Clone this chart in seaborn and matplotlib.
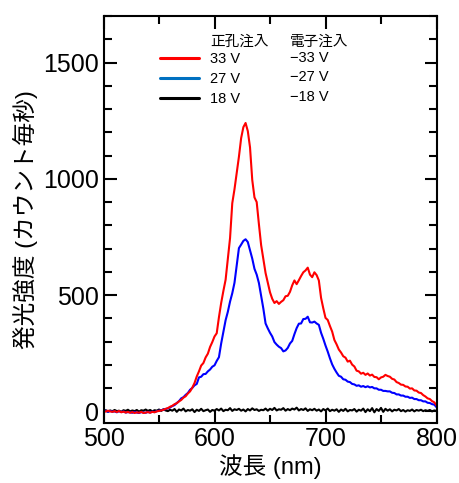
import numpy as np
import pandas as pd
import matplotlib
matplotlib.use("Agg")
import matplotlib.pyplot as plt
from matplotlib.lines import Line2D
from matplotlib.ticker import MultipleLocator
import seaborn as sns

# wavelength grid (nm), 2 nm steps 500..800
wavelength = list(range(500, 801, 2))

# 33 V / -33 V (red)
red_counts = [
    2, -1, 3, 0, -2, 1, -3, 2, -4, -1, -5, -2, -6, -3, -7, -4, -6, -2, -7, -5, -3, -6, -2, -4, 0,
    2, 4, 7, 11, 14, 20, 24, 31, 35, 43, 49, 59, 65, 77, 86, 102, 122, 150, 172, 197, 208, 232, 248, 277, 298,
    322, 336, 405, 466, 518, 566, 655, 745, 895, 955, 1025, 1095, 1175, 1222, 1240, 1205, 1135, 995, 920, 900, 805, 715, 655, 595, 553,
    512, 484, 466, 474, 462, 471, 478, 495, 497, 514, 542, 563, 547, 564, 582, 598, 606, 618, 588, 577, 598, 586, 563, 488, 443,
    402, 393, 367, 343, 307, 288, 266, 253, 237, 231, 214, 218, 201, 193, 175, 172, 162, 166, 157, 163, 154, 158, 148, 147, 138,
    146, 149, 157, 152, 149, 140, 137, 126, 122, 115, 114, 107, 106, 98, 99, 90, 89, 81, 79, 70, 64, 56, 53, 44, 39, 26,
]

# 27 V / -27 V (blue)
blue_counts = [
    1, 3, -2, 2, -1, 0, -4, 1, -3, 0, -5, -3, -4, -6, -2, -5, -7, -3, -5, -6, -2, -5, -1, -3, 1,
    3, 5, 8, 10, 13, 17, 23, 27, 36, 44, 56, 61, 71, 79, 93, 101, 112, 118, 146, 149, 160, 161, 172, 180, 192,
    198, 217, 233, 292, 343, 392, 428, 472, 508, 553, 627, 702, 717, 733, 740, 728, 692, 657, 613, 588, 552, 498, 442, 378, 357,
    338, 322, 298, 287, 278, 272, 258, 262, 273, 292, 303, 332, 358, 377, 378, 397, 398, 407, 383, 382, 386, 378, 372, 338, 312,
    283, 257, 228, 202, 183, 167, 153, 149, 138, 136, 128, 126, 118, 116, 110, 112, 106, 109, 104, 108, 103, 105, 99, 99, 93,
    93, 88, 88, 86, 86, 80, 79, 73, 73, 68, 68, 63, 63, 58, 59, 53, 53, 48, 48, 43, 43, 37, 36, 31, 29, 18,
]

# 18 V / -18 V (black)
black_counts = [
    2, 5, -1, 4, 0, 6, 1, 3, -2, 5, 2, 7, 0, 4, 1, 6, -1, 5, 3, 8, 2, 6, 0, 5, 3,
    8, 2, 9, 4, 1, 7, 3, 10, -2, 8, 4, 12, 0, 6, 3, 9, -3, 7, 2, 11, 1, 5, 8, -2, 6,
    3, 10, 4, 12, 1, 7, 5, 14, 2, 9, 6, 11, 3, 8, 0, 10, 4, 13, 6, 9, 2, 7, 5, 12, 3,
    11, 6, 15, 4, 9, 7, 14, 3, 10, 5, 12, 8, 16, 4, 10, 6, 13, 2, 9, 5, 11, 3, 8, 0, 10,
    4, 12, 1, 7, 3, 9, -2, 8, 2, 11, 0, 6, 4, 10, -1, 7, 3, 12, -3, 9, 1, 14, -4, 10, 2,
    15, -2, 11, 3, 9, 0, 7, 4, 10, 1, 6, -1, 5, 2, 8, 0, 6, 3, 7, 1, 5, 2, 6, 0, 4, 2,
]

series_names = ["33", "27", "18"]
hole_labels = ["33 V", "27 V", "18 V"]
electron_labels = ["\u221233 V", "\u221227 V", "\u221218 V"]
header_labels = ["正孔注入", "電子注入"]
x_ticks = [500, 600, 700, 800]
y_ticks = [0, 500, 1000, 1500]

sns.set_style("ticks")
plt.rcParams["font.family"] = ["Liberation Sans", "Noto Sans CJK JP", "DejaVu Sans"]
plt.rcParams.update({
    "text.color": "black",
    "axes.labelcolor": "black",
    "xtick.color": "black",
    "ytick.color": "black",
    "axes.edgecolor": "black",
})

df = pd.concat([
    pd.DataFrame({"wl": wavelength, "counts": vals, "series": name})
    for name, vals in zip(series_names, [red_counts, blue_counts, black_counts])
])

line_colors = {"33": "#FF0000", "27": "#0000FF", "18": "#000000"}
legend_colors = ["#FF0000", "#0070C0", "#000000"]

fig = plt.figure(figsize=(4.59, 4.83), dpi=100)
ax = fig.add_axes([0.2255, 0.1242, 0.951 - 0.2255, 0.9669 - 0.1242])

sns.lineplot(data=df, x="wl", y="counts", hue="series", palette=line_colors,
             hue_order=["18", "27", "33"], legend=False, linewidth=1.5, ax=ax,
             estimator=None, sort=False)

ax.set_xlim(500, 800)
ax.set_ylim(-50, 1700)
ax.set_xticks(x_ticks)
ax.set_yticks(y_ticks)
ax.xaxis.set_minor_locator(MultipleLocator(50))
ax.yaxis.set_minor_locator(MultipleLocator(100))
ax.tick_params(which="both", direction="in", top=True, right=True, width=1.5,
               labelsize=18, pad=3, colors="black")
ax.tick_params(which="major", length=9)
ax.tick_params(which="minor", length=6)
for sp in ax.spines.values():
    sp.set_linewidth(1.5)
    sp.set_color("black")

ax.set_xlabel("波長 (nm)", fontsize=17, labelpad=2)
ax.set_ylabel("発光強度 (カウント毎秒)", fontsize=17, labelpad=4)

# legend: handles + first column, plus second column and headers as text
handles = [Line2D([], [], color=c, lw=2.2) for c in legend_colors]
leg = ax.legend(handles, hole_labels, loc="upper left", bbox_to_anchor=(0.17, 0.911),
                frameon=False, fontsize=10.5, handlelength=2.7, handletextpad=0.7,
                labelspacing=0.4, borderpad=0, borderaxespad=0)
for t in leg.get_texts():
    t.set_color("black")
row_y = [0.897, 0.850, 0.801]
for y, lab in zip(row_y, electron_labels):
    ax.text(0.56, y, lab, transform=ax.transAxes, fontsize=10.5, va="center", ha="left")
ax.text(0.32, 0.936, header_labels[0], transform=ax.transAxes, fontsize=10.5, va="center", ha="left")
ax.text(0.56, 0.936, header_labels[1], transform=ax.transAxes, fontsize=10.5, va="center", ha="left")

fig.savefig("out.png", dpi=100)
